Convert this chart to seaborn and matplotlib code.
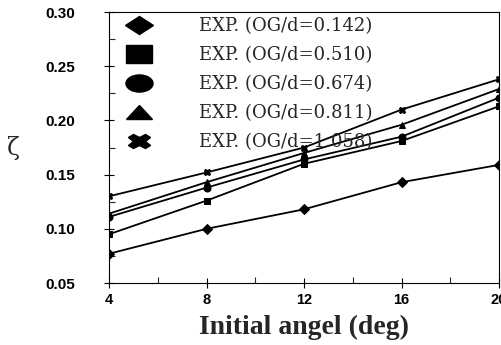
import numpy as np
import pandas as pd
import matplotlib
matplotlib.use("Agg")
import matplotlib.pyplot as plt
from matplotlib.lines import Line2D
from matplotlib.markers import MarkerStyle
from matplotlib.transforms import Affine2D
import seaborn as sns

angles = [4, 8, 12, 16, 20]
labels = ["EXP. (OG/d=0.142)", "EXP. (OG/d=0.510)", "EXP. (OG/d=0.674)",
          "EXP. (OG/d=0.811)", "EXP. (OG/d=1.058)"]
zeta_0142 = [0.077, 0.100, 0.118, 0.143, 0.159]
zeta_0510 = [0.095, 0.126, 0.160, 0.181, 0.213]
zeta_0674 = [0.111, 0.138, 0.164, 0.185, 0.221]
zeta_0811 = [0.114, 0.143, 0.170, 0.196, 0.229]
zeta_1058 = [0.130, 0.152, 0.175, 0.210, 0.238]
series = [zeta_0142, zeta_0510, zeta_0674, zeta_0811, zeta_1058]
markers = ["D", "s", "o", "^", "X"]

rows = []
for lab, vals in zip(labels, series):
    for a, v in zip(angles, vals):
        rows.append({"angle": a, "zeta": v, "series": lab})
df = pd.DataFrame(rows)

sns.set_style("ticks")
plt.rcParams["font.family"] = ["DejaVu Sans"]

fig = plt.figure(figsize=(5.01, 3.45), dpi=100)
ax = fig.add_axes([0.2176, 0.1797, 0.7784, 0.7853])

sns.lineplot(data=df, x="angle", y="zeta", hue="series", style="series",
             palette=["black"] * 5, markers=dict(zip(labels, markers)),
             dashes=False, markersize=5, linewidth=1.3, markeredgecolor="black",
             ax=ax, legend=False)

ax.set_xlim(4, 20)
ax.set_ylim(0.05, 0.30)
ax.set_xticks(angles)
ax.set_xticks([6, 10, 14, 18], minor=True)
ax.set_yticks([0.05, 0.10, 0.15, 0.20, 0.25, 0.30])
ax.set_yticks([0.075, 0.125, 0.175, 0.225, 0.275], minor=True)
ax.set_yticklabels(["0.05", "0.10", "0.15", "0.20", "0.25", "0.30"])
ax.tick_params(axis="both", which="major", direction="inout", length=7, width=0.8,
               labelsize=11, colors="black")
ax.tick_params(axis="y", which="major", pad=21)
ax.tick_params(axis="x", which="major", labelsize=10.5, pad=4)
ax.tick_params(axis="both", which="minor", direction="in", length=4, width=0.8)
for lbl in ax.get_xticklabels() + ax.get_yticklabels():
    lbl.set_fontweight("bold")
    lbl.set_family("Liberation Sans")
for s in ax.spines.values():
    s.set_visible(True)
    s.set_linewidth(0.8)
    s.set_color("black")

ax.set_xlabel("Initial angel (deg)", family="Liberation Serif", fontsize=20,
              fontweight="bold", labelpad=5)
ax.set_ylabel("ζ", family="DejaVu Serif", fontsize=17, rotation=0, va="center")
ax.yaxis.set_label_coords(-0.245, 0.50)

legend_shapes = [("D", 14, (1.0, 0.63)), ("s", 14, (1.34, 0.88)),
                 ("o", 14, (1.39, 0.88)), ("^", 14, (1.3, 0.7)),
                 ("X", 15, (1.1, 0.7))]
handles = [Line2D([], [], linestyle="none",
                  marker=MarkerStyle(m, transform=Affine2D().scale(*sc)),
                  color="black", markersize=ms, markeredgecolor="black")
           for m, ms, sc in legend_shapes]
leg = ax.legend(handles, labels, loc="upper left", bbox_to_anchor=(-0.01, 1.04),
                frameon=False, handletextpad=2.3, labelspacing=0.6,
                prop={"family": "DejaVu Serif", "size": 13})

fig.savefig("out.png", dpi=100)
